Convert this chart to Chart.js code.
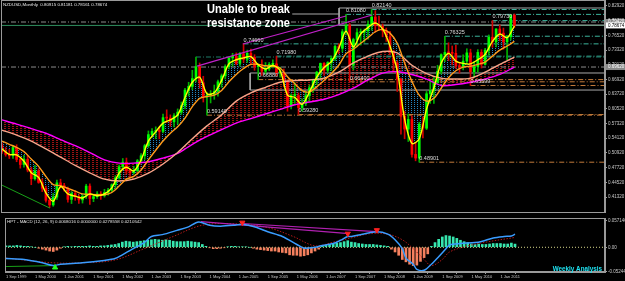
<!DOCTYPE html>
<html>
<head>
<meta charset="utf-8">
<title>NZDUSD Monthly</title>
<script src="https://cdn.jsdelivr.net/npm/chart.js@4.4.1/dist/chart.umd.min.js"></script>
<style>
  html, body { margin: 0; padding: 0; background: #000; width: 625px; height: 281px; overflow: hidden; }
  canvas { position: absolute; left: 0; display: block; }
  #main { top: 0; }
  #macd { top: 213px; }
</style>
</head>
<body>
<canvas id="main" width="625" height="213"></canvas>
<canvas id="macd" width="625" height="68"></canvas>
<script>
// month index 0 = Sep 1999 ... 140 = May 2011
const open = [
  .525,.512,.506,.503,.521,.495,.484,.495,.472,.453,
  .470,.445,.432,.406,.396,.413,.444,.438,.432,.408,
  .421,.414,.407,.415,.437,.410,.414,.420,.416,.423,
  .428,.440,.455,.479,.489,.470,.466,.471,.492,.503,
  .525,.549,.556,.557,.556,.586,.585,.577,.590,.598,
  .612,.646,.654,.671,.697,.662,.631,.635,.637,.643,
  .664,.677,.697,.716,.720,.704,.725,.713,.726,.717,
  .697,.698,.687,.692,.702,.703,.684,.684,.665,.612,
  .634,.634,.608,.617,.634,.651,.668,.685,.704,.689,
  .706,.715,.741,.737,.773,.787,.700,.756,.771,.772,
  .775,.789,.805,.786,.785,.775,.762,.730,.705,.670,
  .589,.561,.582,.506,.498,.572,.563,.638,.645,.663,
  .687,.723,.728,.727,.726,.699,.696,.709,.727,.686,
  .697,.728,.702,.733,.761,.751,.779,.770,.751,.762,
  .80915
];
const high = [
  .531,.521,.517,.525,.527,.499,.504,.503,.478,.482,
  .475,.453,.437,.412,.421,.450,.452,.443,.435,.425,
  .427,.418,.419,.441,.442,.419,.425,.425,.430,.432,
  .442,.460,.483,.497,.498,.475,.480,.495,.508,.528,
  .557,.562,.566,.565,.594,.603,.592,.595,.605,.620,
  .650,.663,.689,.718,.705,.676,.641,.645,.657,.668,
  .681,.701,.718,.726,.727,.728,.7466,.733,.735,.723,
  .703,.712,.706,.706,.712,.7198,.696,.692,.669,.638,
  .662,.640,.627,.643,.657,.670,.687,.705,.706,.708,
  .720,.744,.747,.778,.8108,.792,.759,.780,.779,.779,
  .797,.8214,.819,.807,.790,.781,.774,.733,.709,.672,
  .600,.594,.590,.531,.576,.588,.643,.665,.674,.700,
  .725,.76325,.749,.742,.744,.705,.723,.736,.735,.708,
  .734,.734,.737,.766,.7973,.780,.788,.781,.765,.810,
  .81181
];
const low = [
  .508,.502,.497,.497,.490,.476,.478,.468,.440,.450,
  .443,.425,.402,.390,.393,.408,.433,.426,.402,.399,
  .406,.399,.400,.410,.397,.403,.410,.408,.413,.417,
  .425,.432,.452,.473,.463,.455,.463,.468,.489,.495,
  .521,.543,.540,.540,.553,.575,.567,.566,.572,.593,
  .605,.633,.647,.664,.650,.620,.5914,.618,.626,.633,
  .652,.670,.692,.698,.701,.698,.706,.706,.702,.689,
  .6688,.678,.681,.688,.694,.677,.674,.653,.600,.605,
  .617,.5928,.600,.612,.622,.641,.658,.671,.678,.684,
  .688,.710,.725,.729,.766,.664,.690,.740,.744,.750,
  .757,.776,.772,.776,.762,.752,.723,.684,.643,.550,
  .540,.534,.500,.492,.48901,.542,.560,.617,.617,.659,
  .681,.708,.710,.701,.693,.683,.690,.702,.65599,.673,
  .685,.694,.700,.722,.739,.740,.753,.735,.712,.755,
  .78161
];
const close = [
  .512,.506,.503,.521,.495,.484,.495,.472,.453,.470,
  .445,.432,.406,.396,.413,.444,.438,.432,.408,.421,
  .414,.407,.415,.437,.410,.414,.420,.416,.423,.428,
  .440,.455,.479,.489,.470,.466,.471,.492,.503,.525,
  .549,.556,.557,.556,.586,.585,.577,.590,.598,.612,
  .646,.654,.671,.697,.662,.631,.635,.637,.643,.664,
  .677,.697,.716,.720,.704,.725,.713,.726,.717,.697,
  .698,.687,.692,.702,.703,.684,.684,.665,.612,.634,
  .634,.608,.617,.634,.651,.668,.685,.704,.689,.706,
  .715,.741,.737,.773,.787,.700,.756,.771,.772,.775,
  .789,.805,.786,.785,.775,.762,.730,.705,.670,.589,
  .561,.582,.506,.498,.572,.563,.638,.645,.663,.687,
  .723,.728,.727,.726,.699,.696,.709,.727,.686,.697,
  .728,.702,.733,.761,.751,.779,.770,.751,.762,.809,
  .78674
];

// moving averages, fast pair every 2 months, slow pair every 4
const fastMonths = Array.from({ length: 71 }, (_, k) => k * 2);
const yellowMA = [
  .518,.506,.505,.491,.466,.456,.422,.404,.436,.420,
  .415,.411,.420,.416,.420,.433,.465,.478,.470,.494,
  .535,.555,.574,.581,.592,.630,.663,.674,.638,.640,
  .667,.703,.712,.716,.719,.701,.692,.700,.688,.635,
  .630,.615,.642,.674,.695,.708,.737,.774,.740,.768,
  .782,.792,.779,.742,.688,.583,.530,.540,.605,.651,
  .705,.726,.709,.704,.703,.712,.724,.752,.768,.760,
  .786
];
const orangeMA = [
  .535,.528,.521,.512,.496,.480,.458,.440,.438,.432,
  .426,.420,.419,.418,.418,.423,.437,.452,.458,.472,
  .494,.515,.535,.552,.566,.585,.610,.628,.632,.635,
  .645,.664,.680,.693,.702,.702,.699,.698,.694,.675,
  .660,.645,.642,.653,.667,.682,.700,.725,.735,.748,
  .760,.773,.778,.770,.748,.705,.665,.635,.622,.628,
  .650,.673,.688,.696,.698,.702,.707,.720,.733,.742,
  .752
];
const slowMonths = Array.from({ length: 36 }, (_, k) => k * 4);
const salmonMA = [
  .559,.548,.535,.518,.500,.482,.466,.452,.448,.452,
  .465,.485,.510,.540,.568,.592,.622,.640,.652,.663,
  .667,.668,.672,.685,.705,.720,.730,.727,.700,.682,
  .672,.670,.672,.685,.702,.718
];
const magentaMA = [
  .581,.572,.562,.552,.538,.525,.510,.494,.487,.487,
  .490,.498,.508,.528,.545,.560,.574,.584,.594,.604,
  .614,.620,.626,.636,.650,.668,.683,.686,.680,.670,
  .656,.658,.663,.670,.680,.696
];

// horizontal levels: month where they start, price
const tealMonths = [53, 66, 75, 94, 101, 121, 134];
const tealPrices = [0.718, 0.7466, 0.7198, 0.8108, 0.8214, 0.76325, 0.7973];
const orangeMonths = [56, 70, 81, 95, 114, 128];
const orangePrices = [0.5914, 0.6688, 0.5928, 0.664, 0.48901, 0.65599];
const grayPrices = [0.7942, 0.6962];

// resistance zones: start month, top, bottom
const zoneMonths = [92.1, 67.8];
const zoneTops = [0.8247, 0.6832];
const zoneBottoms = [0.7876, 0.6461];

// trend / divergence lines
const trendA = [[53.3, 0.698], [101.1, 0.8094]];
const trendB = [[65.8, 0.7463], [94, 0.8073]];
const greenMain = [[0, 0.439], [13.1, 0.389]];
const noteLink = [[79.3, 0.8116], [92.1, 0.8116]];

const priceTicks = [0.8292, 0.7972, 0.7652, 0.7332, 0.7012, 0.6692, 0.6372,
  0.6052, 0.5732, 0.5412, 0.5092, 0.4772, 0.4452, 0.4132];

// MACD panel
const macdHist = [
  .003,.003,.003,.004,.003,.002,.002,.001,.000,-.002,
  -.004,-.006,-.008,-.009,-.006,-.002,.001,.002,.001,.002,
  .002,.002,.002,.003,.002,.002,.003,.003,.004,.005,
  .006,.008,.011,.013,.012,.011,.012,.013,.014,.015,
  .016,.017,.016,.015,.016,.015,.013,.012,.012,.012,
  .013,.012,.011,.010,.006,.002,-.001,-.003,-.003,-.002,
  -.001,.001,.002,.002,.001,.001,.001,.000,-.002,-.004,
  -.005,-.006,-.007,-.008,-.008,-.010,-.011,-.012,-.016,-.017,
  -.017,-.019,-.018,-.016,-.012,-.008,-.004,.003,.004,.006,
  .007,.009,.010,.012,.014,.011,.010,.008,.007,.006,
  .006,.006,.005,.004,.003,.002,-.004,-.010,-.017,-.026,
  -.031,-.036,-.039,-.038,-.030,-.022,-.014,.002,.010,.017,
  .022,.025,.024,.022,.019,.015,.012,.010,.007,.006,
  .007,.006,.006,.007,.008,.008,.008,.007,.007,.009,
  .0068
];
const macdMonths = [0,5,10,13,15,21,27,30,32,35,38,40,43,47,50,53,56,59,63,65,
  69,72,76,80,82,85,87,90,92,94,95,98,102,105,107,109,110,112,113,115,
  117,119,121,122,125,129,131,134,137,139,140];
const macdLine = [-0.024,-0.026,-0.033,-0.039,-0.036,-0.033,-0.028,-0.024,-0.016,-0.003,
  0.010,0.023,0.027,0.036,0.043,0.054,0.047,0.045,0.047,0.049,
  0.042,0.033,0.023,0.006,-0.002,0.000,0.004,0.008,0.015,0.023,
  0.023,0.028,0.033,0.028,0.016,-0.003,-0.023,-0.036,-0.047,-0.049,
  -0.036,-0.020,-0.003,0.005,0.008,0.010,0.013,0.020,0.023,0.024,0.0279];
const signalMonths = [0,13,21,30,38,46,54,63,72,79,85,90,95,100,105,109,112,115,117,120,122,127,132,140];
const signalLine = [-0.023,-0.033,-0.033,-0.027,-0.003,0.023,0.047,0.050,0.042,0.023,0.003,0.011,
  0.020,0.029,0.028,0.016,-0.003,-0.026,-0.039,-0.026,-0.010,0.003,0.011,0.021];
const macdDivA = [[53.6, 0.0546], [94.3, 0.0293]];
const macdDivB = [[65, 0.0507], [101.9, 0.0332]];
const macdGreen = [[0, -0.041], [13.5, -0.039]];
const upArrows = [[13.5, -0.043]];
const downArrows = [[65, 0.0525], [94, 0.0290], [102, 0.0365]];
const macdTicks = [0.0566, 0, -0.0512];
const macdTickText = ['0.057146', '0.00', '-0.052441'];

const tickMonths = [0, 8, 16, 24, 32, 40, 48, 56, 64, 72, 80, 88, 96, 104, 112, 120, 128, 136];
const dateLabels = ['1 Sep 1999', '1 May 2000', '1 Jan 2001', '1 Sep 2001', '1 May 2002', '1 Jan 2003',
  '1 Sep 2003', '1 May 2004', '1 Jan 2005', '1 Sep 2005', '1 May 2006', '1 Jan 2007',
  '1 Sep 2007', '1 May 2008', '1 Jan 2009', '1 Sep 2009', '1 May 2010', '1 Jan 2011'];

const titleText = 'NZDUSD,Monthly  0.80915 0.81181 0.78161 0.78674';
const macdTitle = 'HPT - MACD (12, 26, 9) 0.0068016 0.0000000 0.0278558 0.0210542';

const xMin = -0.27, xMax = 164.75;
const months = close.map((_, i) => i);
const up = months.map(i => close[i] >= open[i]);

Chart.defaults.font.family = "'Liberation Sans', Arial, sans-serif";
Chart.defaults.color = '#c8c8c8';

const pts = (xs, ys) => xs.map((x, k) => ({ x, y: ys[k] }));
const pairs = arr => arr.map(([x, y]) => ({ x, y }));
const lineBase = { type: 'line', pointRadius: 0, borderWidth: 1, tension: 0, fill: false };
const dashDot = [5, 2, 1, 2];

function dotPattern(ctx, color, w, h, dots) {
  const c = document.createElement('canvas');
  c.width = w; c.height = h;
  const g = c.getContext('2d');
  g.fillStyle = color;
  dots.forEach(([a, b]) => g.fillRect(a, b, 1, 1));
  return ctx.createPattern(c, 'repeat');
}

function fixWidth(w) {
  return s => { s.width = w; s.paddingTop = 0; s.paddingBottom = 0; };
}

// ---------- main price panel ----------
const ctxMain = document.getElementById('main').getContext('2d');
const cyanDots = dotPattern(ctxMain, '#2384c0', 3, 2, [[0, 0]]);
const redDots = dotPattern(ctxMain, '#9a1212', 4, 2, [[0, 0], [1, 0]]);

const mainSets = [
  { ...lineBase, label: 'fast', data: pts(fastMonths, yellowMA), borderColor: '#ffff00', borderWidth: 1.4,
    tension: 0.3, fill: { target: 1 }, backgroundColor: cyanDots, order: 1 },
  { ...lineBase, label: 'mid', data: pts(fastMonths, orangeMA), borderColor: '#ff9a1a', borderWidth: 1.4,
    tension: 0.3, order: 1 },
  { ...lineBase, label: 'slow', data: pts(slowMonths, salmonMA), borderColor: '#f7a58a', borderWidth: 1.4,
    tension: 0.3, fill: { target: 3 }, backgroundColor: redDots, order: 1 },
  { ...lineBase, label: 'long', data: pts(slowMonths, magentaMA), borderColor: '#ff00ff', borderWidth: 1.4,
    tension: 0.3, order: 1 },
  { type: 'bar', label: 'wick', data: months.map(i => ({ x: i, y: [low[i], high[i]] })),
    backgroundColor: months.map(i => up[i] ? '#00b000' : '#d00000'), barThickness: 1, grouped: false, order: 3 },
  { type: 'bar', label: 'body', data: months.map(i => ({ x: i, y: [open[i], close[i]] })),
    backgroundColor: months.map(i => up[i] ? '#00ff00' : '#ff0000'), barThickness: 2, grouped: false,
    minBarLength: 1, order: 2 }
];
tealMonths.forEach((m, k) => mainSets.push({ ...lineBase, data: pairs([[m, tealPrices[k]], [xMax, tealPrices[k]]]),
  borderColor: k === 0 ? '#1f7a68' : '#3cb49c', borderDash: dashDot, order: 5 }));
orangeMonths.forEach((m, k) => mainSets.push({ ...lineBase, data: pairs([[m, orangePrices[k]], [xMax, orangePrices[k]]]),
  borderColor: '#c27a3a', borderDash: dashDot, order: 5 }));
grayPrices.forEach(p => mainSets.push({ ...lineBase, data: pairs([[xMin, p], [xMax, p]]),
  borderColor: '#8c8c8c', borderDash: dashDot, order: 5 }));
zoneMonths.forEach((m, k) => mainSets.push({ ...lineBase,
  data: pairs([[xMax, zoneTops[k]], [m, zoneTops[k]], [m, zoneBottoms[k]], [xMax, zoneBottoms[k]]]),
  borderColor: '#a8a8a8', order: 5 }));
mainSets.push({ ...lineBase, data: pairs(noteLink), borderColor: '#a8a8a8', order: 5 });
mainSets.push({ ...lineBase, data: pairs([[xMin, close[140]], [xMax, close[140]]]), borderColor: '#2f8f5f', order: 5 });
[trendA, trendB].forEach(t => mainSets.push({ ...lineBase, data: pairs(t), borderColor: '#c020c8', borderWidth: 1.2, order: 1 }));
mainSets.push({ ...lineBase, data: pairs(greenMain), borderColor: '#18a018', order: 1 });

const valueLabels = tealMonths.slice(1).map((m, k) => [m, tealPrices[k + 1]])
  .concat(orangeMonths.map((m, k) => [m, orangePrices[k]]));

const frame = {
  id: 'frame',
  afterDraw(chart) {
    const { ctx, chartArea: a } = chart;
    ctx.save();
    ctx.strokeStyle = '#9a9a9a';
    ctx.lineWidth = 1;
    ctx.strokeRect(Math.round(a.left) + 0.5, Math.round(a.top) + 0.5,
      Math.round(a.right - a.left) - 1, Math.round(a.bottom - a.top) - 1);
    ctx.restore();
  }
};

const mainNotes = {
  id: 'mainNotes',
  afterDatasetsDraw(chart) {
    const { ctx, scales: { x, y }, chartArea: a } = chart;
    ctx.save();
    ctx.font = "5.5px 'Liberation Sans', Arial, sans-serif";
    ctx.fillStyle = '#dcdcdc';
    ctx.textBaseline = 'bottom';
    valueLabels.forEach(([m, p]) => ctx.fillText(p.toFixed(5), x.getPixelForValue(m), y.getPixelForValue(p) - 1));

    ctx.font = "4.4px 'Liberation Sans', Arial, sans-serif";
    ctx.textBaseline = 'middle';
    ctx.fillStyle = '#e8e8e8';
    ctx.fillText(titleText, a.left + 2, a.top + 5);

    ctx.font = "bold 13px 'Liberation Sans', Arial, sans-serif";
    ctx.fillStyle = '#ffffff';
    ctx.textBaseline = 'alphabetic';
    [['Unable to break', 13], ['resistance zone', 27]].forEach(([t, by]) => {
      const w = ctx.measureText(t).width;
      ctx.save();
      ctx.translate(207, by);
      ctx.scale(83 / w, 1);
      ctx.fillText(t, 0, 0);
      ctx.restore();
    });
    ctx.restore();
  },
  afterDraw(chart) {
    const { ctx, scales: { y }, chartArea: a } = chart;
    ctx.save();
    ctx.font = "4.5px 'Liberation Sans', Arial, sans-serif";
    ctx.textBaseline = 'middle';
    const box = (p, bg, fg) => {
      const py = y.getPixelForValue(p);
      ctx.fillStyle = bg;
      ctx.fillRect(a.right + 1, py - 3, 24, 6);
      ctx.fillStyle = fg;
      ctx.fillText(p.toFixed(5), a.right + 3, py);
    };
    grayPrices.forEach(p => box(p, '#8a8a8a', '#ffffff'));
    box(close[140], '#ffffff', '#000000');
    ctx.restore();
  }
};

new Chart(ctxMain, {
  type: 'bar',
  data: { datasets: mainSets },
  options: {
    responsive: false,
    animation: false,
    layout: { padding: { left: 1, top: 0, right: 0, bottom: 0 } },
    plugins: { legend: { display: false }, tooltip: { enabled: false }, filler: { drawTime: 'beforeDatasetsDraw' } },
    scales: {
      x: { type: 'linear', min: xMin, max: xMax, offset: false, display: false },
      y: {
        position: 'right', min: 0.3784, max: 0.8421,
        afterBuildTicks: s => { s.ticks = priceTicks.map(v => ({ value: v })); },
        afterFit: fixWidth(20),
        ticks: { font: { size: 4.5 }, color: '#c8c8c8', padding: 1, autoSkip: false,
          callback: v => v.toFixed(5) },
        grid: { drawOnChartArea: false, tickLength: 2, color: '#a0a0a0' },
        border: { color: '#9a9a9a' }
      }
    }
  },
  plugins: [frame, mainNotes]
});

// ---------- MACD panel ----------
const ctxMacd = document.getElementById('macd').getContext('2d');
const macdSets = [
  { type: 'bar', data: months.map(i => ({ x: i, y: macdHist[i] })),
    backgroundColor: months.map(i => macdHist[i] >= 0 ? '#36e6ae' : '#f5805e'),
    barThickness: 2, grouped: false, order: 4 },
  { ...lineBase, data: pairs([[xMin, 0], [xMax, 0]]), borderColor: '#d8d88a', borderDash: [1, 2], order: 5 },
  { ...lineBase, data: pts(signalMonths, signalLine), borderColor: '#b01818', borderDash: [1.5, 1.5],
    tension: 0.35, order: 2 },
  { ...lineBase, data: pts(macdMonths, macdLine), borderColor: '#3a9cff', borderWidth: 1.5, tension: 0.3, order: 1 },
  { ...lineBase, data: pairs(macdDivA), borderColor: '#b020b0', borderWidth: 1.2, order: 1 },
  { ...lineBase, data: pairs(macdDivB), borderColor: '#b020b0', borderWidth: 1.2, order: 1 },
  { ...lineBase, data: pairs(macdGreen), borderColor: '#18a018', order: 1 },
  { type: 'line', showLine: false, data: pairs(upArrows), pointStyle: 'triangle', pointRadius: 3,
    backgroundColor: '#22ff22', borderColor: '#22ff22', order: 0 },
  { type: 'line', showLine: false, data: pairs(downArrows), pointStyle: 'triangle', rotation: 180, pointRadius: 3,
    backgroundColor: '#ff2020', borderColor: '#ff2020', order: 0 }
];

const macdNotes = {
  id: 'macdNotes',
  afterDraw(chart) {
    const { ctx, chartArea: a } = chart;
    ctx.save();
    ctx.font = "4.4px 'Liberation Sans', Arial, sans-serif";
    ctx.fillStyle = '#e0e0e0';
    ctx.textBaseline = 'middle';
    ctx.fillText(macdTitle, a.left + 2, a.top + 4);
    ctx.font = "bold 6.3px 'Liberation Sans', Arial, sans-serif";
    ctx.fillStyle = '#1ee3f2';
    ctx.textAlign = 'right';
    ctx.fillText('Weekly Analysis', a.right - 3, a.top + 51);
    ctx.restore();
  }
};

new Chart(ctxMacd, {
  type: 'bar',
  data: { datasets: macdSets },
  options: {
    responsive: false,
    animation: false,
    layout: { padding: { left: 1, top: 0, right: 0, bottom: 0 } },
    plugins: { legend: { display: false }, tooltip: { enabled: false } },
    scales: {
      x: {
        type: 'linear', min: xMin, max: xMax, offset: false, position: 'bottom',
        afterBuildTicks: s => { s.ticks = tickMonths.map(v => ({ value: v })); },
        afterFit: s => { s.height = 9; s.paddingLeft = 0; s.paddingRight = 0; },
        ticks: { font: { size: 4 }, color: '#c8c8c8', align: 'start', maxRotation: 0, autoSkip: false, padding: 0,
          callback: v => dateLabels[tickMonths.indexOf(v)] },
        grid: { drawOnChartArea: false, tickLength: 2, color: '#9a9a9a' },
        border: { color: '#9a9a9a' }
      },
      y: {
        position: 'right', min: -0.05265, max: 0.0624,
        afterBuildTicks: s => { s.ticks = macdTicks.map(v => ({ value: v })); },
        afterFit: fixWidth(20),
        ticks: { font: { size: 4.5 }, color: '#c8c8c8', padding: 1, autoSkip: false,
          callback: v => macdTickText[macdTicks.indexOf(v)] },
        grid: { drawOnChartArea: false, tickLength: 2, color: '#a0a0a0' },
        border: { color: '#9a9a9a' }
      }
    }
  },
  plugins: [frame, macdNotes]
});
</script>
</body>
</html>
